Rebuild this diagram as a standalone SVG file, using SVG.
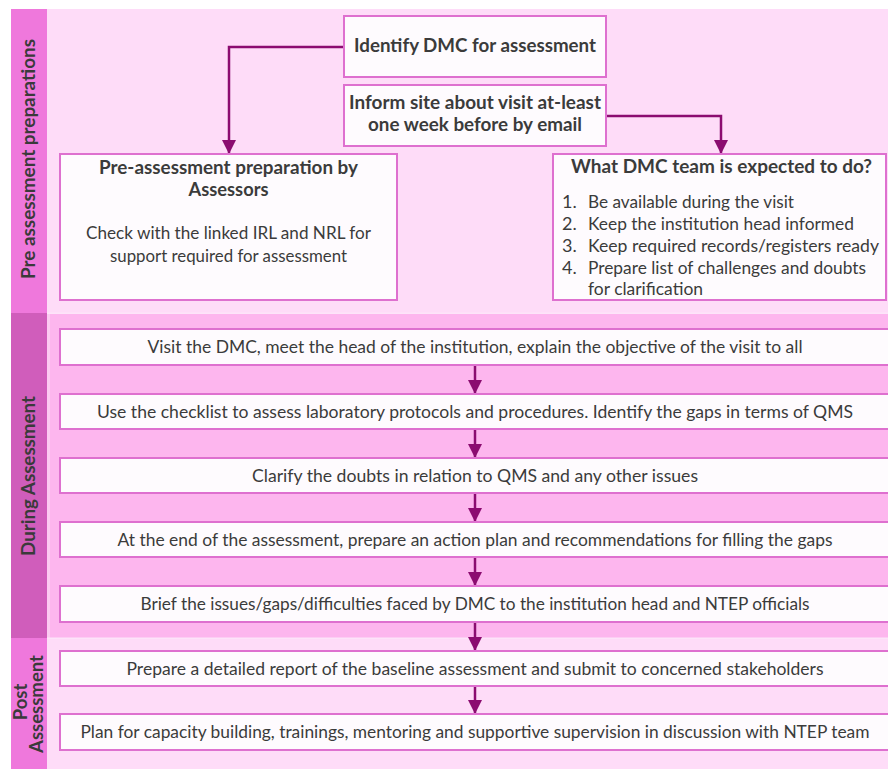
<svg xmlns="http://www.w3.org/2000/svg" width="888" height="769" viewBox="0 0 888 769">
<defs>
<style>
text{font-family:"Lato","Liberation Sans",sans-serif;fill:#3b3b3b}
.b{font-weight:bold;font-size:18.5px}
.r{font-size:18px}
.s{font-size:16.8px}
.lab{font-weight:bold;font-size:18.5px;fill:#3a3a3a}
.box{fill:#fefbfe;stroke:#de70cf;stroke-width:2}
.con{fill:none;stroke:#8b0c70;stroke-width:2.5}
</style>
<marker id="ah" markerUnits="userSpaceOnUse" markerWidth="14" markerHeight="14" refX="14" refY="7" orient="auto">
<path d="M0,0 L14,7 L0,14 z" fill="#8b0c70"/>
</marker>
</defs>
<rect width="888" height="769" fill="#ffffff"/>
<g id="bands">
<rect x="11" y="9" width="877" height="304" fill="#fedcf8"/>
<rect x="11" y="9" width="36" height="304" fill="#ef78dc"/>
<rect x="11" y="313" width="877" height="325" fill="#fdb6ee"/>
<rect x="47" y="313" width="3" height="325" fill="#fccaf2"/>
<rect x="11" y="313" width="36" height="325" fill="#d05dbb"/>
<rect x="11" y="638" width="877" height="131" fill="#fedcf8"/>
<rect x="11" y="638" width="36" height="131" fill="#ef78dc"/>
<rect x="47" y="312.5" width="841" height="1.5" fill="#fde4f9"/>
<rect x="47" y="637.5" width="841" height="1.5" fill="#fde4f9"/>
</g>
<g id="lab1"><text class="lab" transform="translate(35,159) rotate(-90)" text-anchor="middle" textLength="240" lengthAdjust="spacingAndGlyphs">Pre assessment preparations</text></g>
<g id="lab2"><text class="lab" transform="translate(35,476) rotate(-90)" text-anchor="middle" textLength="160" lengthAdjust="spacingAndGlyphs">During Assessment</text></g>
<g id="lab3">
<text class="lab" transform="translate(27,702) rotate(-90)" text-anchor="middle">Post</text>
<text class="lab" transform="translate(43,704) rotate(-90)" text-anchor="middle" textLength="98" lengthAdjust="spacingAndGlyphs">Assessment</text>
</g>
<g id="connectors">
<path class="con" d="M344,47 H229 V154" marker-end="url(#ah)"/>
<path class="con" d="M606,116 H721 V154" marker-end="url(#ah)"/>
<path class="con" d="M475,365 V394" marker-end="url(#ah)"/>
<path class="con" d="M475,429 V458" marker-end="url(#ah)"/>
<path class="con" d="M475,493 V522" marker-end="url(#ah)"/>
<path class="con" d="M475,557 V586" marker-end="url(#ah)"/>
<path class="con" d="M475,622 V651" marker-end="url(#ah)"/>
<path class="con" d="M475,686 V714" marker-end="url(#ah)"/>
</g>
<g id="n1">
<rect class="box" x="344" y="16" width="262" height="61"/>
<text class="b" x="475" y="52" text-anchor="middle" textLength="242" lengthAdjust="spacingAndGlyphs">Identify DMC for assessment</text>
</g>
<g id="n2">
<rect class="box" x="344" y="85" width="262" height="61"/>
<text class="b" x="475" y="109" text-anchor="middle" textLength="252" lengthAdjust="spacingAndGlyphs">Inform site about visit at-least</text>
<text class="b" x="475" y="131" text-anchor="middle" textLength="214" lengthAdjust="spacingAndGlyphs">one week before by email</text>
</g>
<g id="n3">
<rect class="box" x="60" y="154" width="337" height="146"/>
<text class="b" x="228.5" y="174" text-anchor="middle" textLength="259" lengthAdjust="spacingAndGlyphs">Pre-assessment preparation by</text>
<text class="b" x="228.5" y="196" text-anchor="middle" textLength="80" lengthAdjust="spacingAndGlyphs">Assessors</text>
<text class="r" x="228.5" y="239" text-anchor="middle" textLength="285" lengthAdjust="spacingAndGlyphs">Check with the linked IRL and NRL for</text>
<text class="r" x="228.5" y="262" text-anchor="middle" textLength="237" lengthAdjust="spacingAndGlyphs">support required for assessment</text>
</g>
<g id="n4">
<rect class="box" x="553" y="154" width="333" height="146"/>
<text class="b" x="721.5" y="173" text-anchor="middle" textLength="301" lengthAdjust="spacingAndGlyphs">What DMC team is expected to do?</text>
<text class="r" x="562" y="208">1.</text>
<text class="r" x="588" y="208" textLength="206" lengthAdjust="spacingAndGlyphs">Be available during the visit</text>
<text class="r" x="562" y="230">2.</text>
<text class="r" x="588" y="230" textLength="266" lengthAdjust="spacingAndGlyphs">Keep the institution head informed</text>
<text class="r" x="562" y="252">3.</text>
<text class="r" x="588" y="252" textLength="291" lengthAdjust="spacingAndGlyphs">Keep required records/registers ready</text>
<text class="r" x="562" y="274">4.</text>
<text class="r" x="588" y="274" textLength="278" lengthAdjust="spacingAndGlyphs">Prepare list of challenges and doubts</text>
<text class="r" x="588" y="295" textLength="115" lengthAdjust="spacingAndGlyphs">for clarification</text>
</g>
<g id="n5">
<path class="box" d="M888,329 H60 V365 H888"/>
<text class="r" x="475" y="353" text-anchor="middle" textLength="655" lengthAdjust="spacingAndGlyphs">Visit the DMC, meet the head of the institution, explain the objective of the visit to all</text>
</g>
<g id="n6">
<path class="box" d="M888,394 H60 V429 H888"/>
<text class="r" x="475" y="417.5" text-anchor="middle" textLength="756" lengthAdjust="spacingAndGlyphs">Use the checklist to assess laboratory protocols and procedures. Identify the gaps in terms of QMS</text>
</g>
<g id="n7">
<path class="box" d="M888,458 H60 V493 H888"/>
<text class="r" x="475" y="481.5" text-anchor="middle" textLength="446" lengthAdjust="spacingAndGlyphs">Clarify the doubts in relation to QMS and any other issues</text>
</g>
<g id="n8">
<path class="box" d="M888,522 H60 V557 H888"/>
<text class="r" x="475" y="545.5" text-anchor="middle" textLength="715" lengthAdjust="spacingAndGlyphs">At the end of the assessment, prepare an action plan and recommendations for filling the gaps</text>
</g>
<g id="n9">
<path class="box" d="M888,586 H60 V622 H888"/>
<text class="r" x="475" y="610" text-anchor="middle" textLength="669" lengthAdjust="spacingAndGlyphs">Brief the issues/gaps/difficulties faced by DMC to the institution head and NTEP officials</text>
</g>
<g id="n10">
<path class="box" d="M888,651 H60 V686 H888"/>
<text class="r" x="475" y="674.5" text-anchor="middle" textLength="697" lengthAdjust="spacingAndGlyphs">Prepare a detailed report of the baseline assessment and submit to concerned stakeholders</text>
</g>
<g id="n11">
<path class="box" d="M888,714 H60 V750 H888"/>
<text class="s" x="475" y="738" text-anchor="middle" textLength="789" lengthAdjust="spacingAndGlyphs">Plan for capacity building, trainings, mentoring and supportive supervision in discussion with NTEP team</text>
</g>
</svg>
